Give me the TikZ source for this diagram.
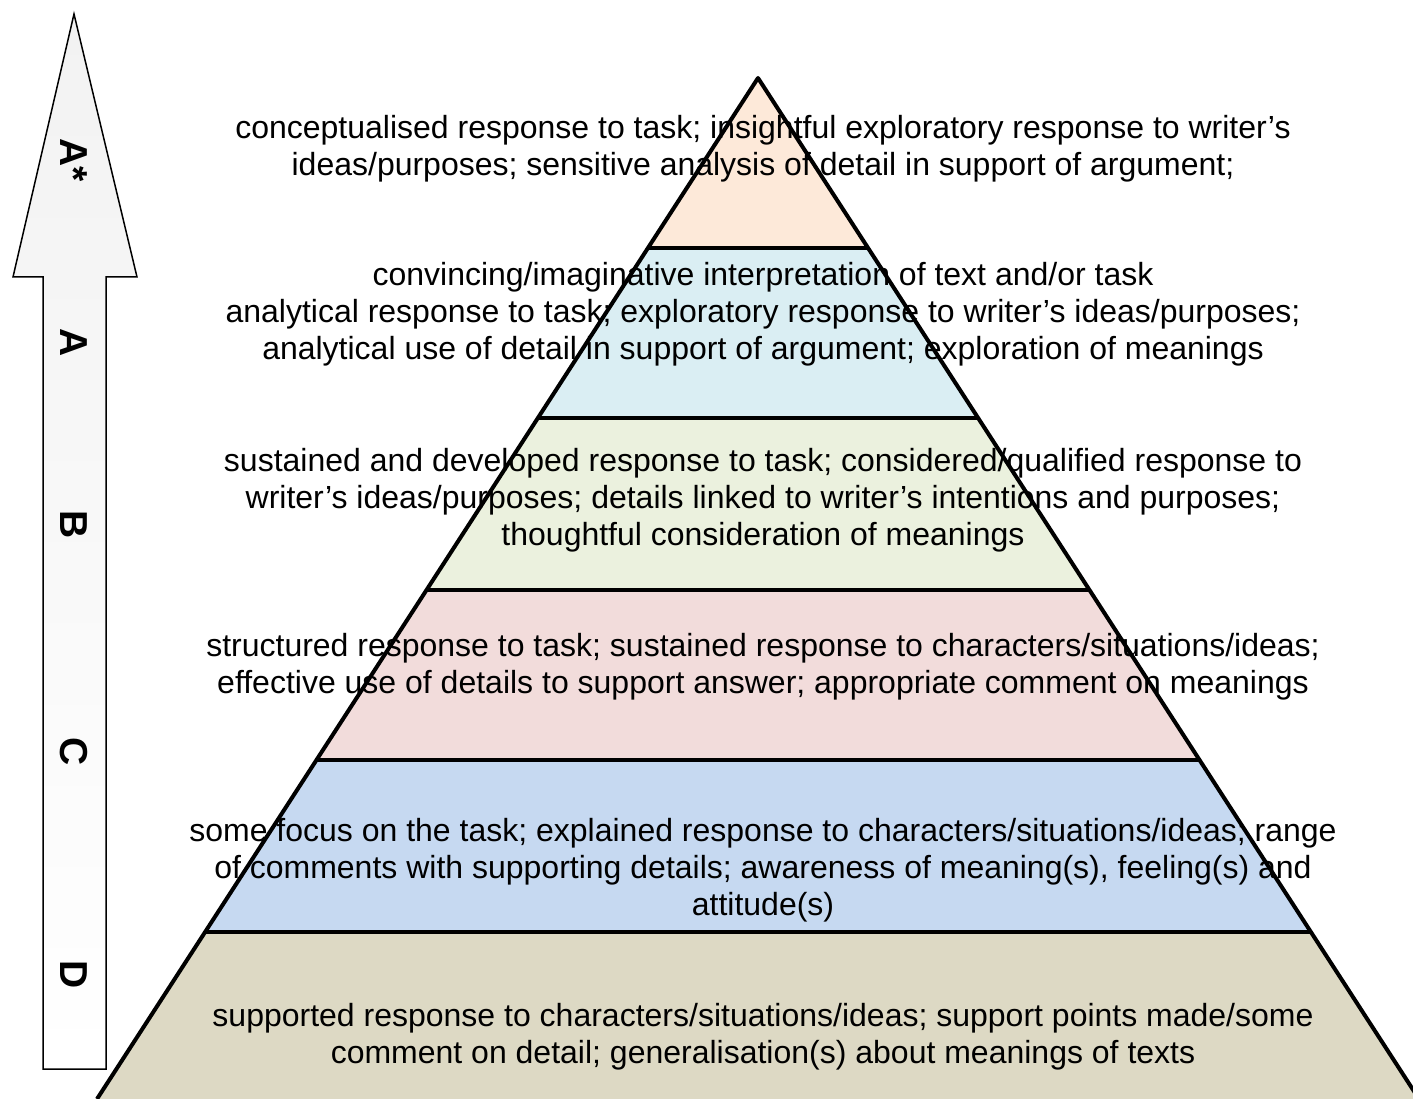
\documentclass[tikz,border=0pt]{standalone}
\usepackage{fontspec}
\setmainfont{Liberation Sans}
\usetikzlibrary{calc}
\definecolor{peach}{HTML}{FDE9D9}
\definecolor{aqua}{HTML}{DAEEF3}
\definecolor{olive}{HTML}{EBF1DE}
\definecolor{rose}{HTML}{F2DCDB}
\definecolor{sky}{HTML}{C6D9F1}
\definecolor{tan}{HTML}{DDD9C4}
\definecolor{arrowgray}{HTML}{F2F2F2}
\begin{document}
\begin{tikzpicture}[x=1pt, y=-1pt,
  level/.style={align=center, font=\fontsize{32}{37}\selectfont},
  grade/.style={rotate=-90, font=\fontsize{39}{39}\selectfont\bfseries}]
  \useasboundingbox (0,0) rectangle (1413,1099);
  \clip (0,0) rectangle (1413,1099);

  % grade arrow
  \draw[line width=1.5pt, top color=arrowgray, bottom color=white]
    (74,14) -- (137,277) -- (106,277) -- (106,1069) -- (43,1069)
    -- (43,277) -- (13,277) -- cycle;
  \node[grade] (astar) at (74,160) {A*};
  \node[grade] (ga) at (74,343) {A};
  \node[grade] (gb) at (74,525) {B};
  \node[grade] (gc) at (74,752) {C};
  \node[grade] (gd) at (74,975) {D};

  % pyramid
  \coordinate (top) at (758,78);
  \coordinate (bl) at (97,1099);
  \coordinate (br) at (1419,1099);
  \foreach \name/\t in {c1/0.1665, c2/0.3330, c3/0.5015, c4/0.6680, c5/0.8364} {
    \coordinate (\name l) at ($(top)!\t!(bl)$);
    \coordinate (\name r) at ($(top)!\t!(br)$);
  }
  \fill[peach] (top) -- (c1r) -- (c1l) -- cycle;
  \fill[aqua] (c1l) -- (c1r) -- (c2r) -- (c2l) -- cycle;
  \fill[olive] (c2l) -- (c2r) -- (c3r) -- (c3l) -- cycle;
  \fill[rose] (c3l) -- (c3r) -- (c4r) -- (c4l) -- cycle;
  \fill[sky] (c4l) -- (c4r) -- (c5r) -- (c5l) -- cycle;
  \fill[tan] (c5l) -- (c5r) -- (br) -- (bl) -- cycle;

  \node[level] (lev1) at (763,148.5) {conceptualised response to task; insightful exploratory response to writer’s\\ideas/purposes; sensitive analysis of detail in support of argument;};
  \node[level] (lev2) at (763,314) {convincing/imaginative interpretation of text and/or task\\analytical response to task; exploratory response to writer’s ideas/purposes;\\analytical use of detail in support of argument; exploration of meanings};
  \node[level] (lev3) at (763,500) {sustained and developed response to task; considered/qualified response to\\writer’s ideas/purposes; details linked to writer’s intentions and purposes;\\thoughtful consideration of meanings};
  \node[level] (lev4) at (763,667) {structured response to task; sustained response to characters/situations/ideas;\\effective use of details to support answer; appropriate comment on meanings};
  \node[level] (lev5) at (763,870) {some focus on the task; explained response to characters/situations/ideas; range\\of comments with supporting details; awareness of meaning(s), feeling(s) and\\attitude(s)};
  \node[level] (lev6) at (763,1037) {supported response to characters/situations/ideas; support points made/some\\comment on detail; generalisation(s) about meanings of texts};

  \draw[line width=4pt, line join=round] (bl) -- (top) -- (br);
  \foreach \name in {c1,c2,c3,c4,c5}
    \draw[line width=4pt] (\name l) -- (\name r);
\end{tikzpicture}
\end{document}
